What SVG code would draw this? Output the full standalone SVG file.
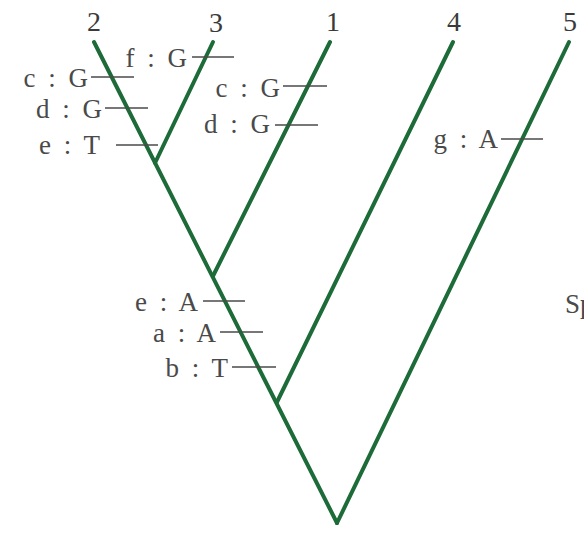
<svg xmlns="http://www.w3.org/2000/svg" width="584" height="547" viewBox="0 0 584 547">
<style>
.br{stroke:#1d6b38;stroke-width:4;stroke-linecap:round;fill:none}
.tk{stroke:#4a4a4a;stroke-width:1.6;fill:none}
.lb{font-family:"Liberation Serif",serif;font-size:27px;fill:#4a4a4a;letter-spacing:3px;text-anchor:end}
.num{font-family:"Liberation Serif",serif;font-size:28px;fill:#3a3a3a;text-anchor:middle}
</style>
<rect width="584" height="547" fill="#ffffff"/>
<g id="connectors">
<line class="br" x1="94" y1="42" x2="337" y2="523"/>
<line class="br" x1="569" y1="42" x2="337" y2="523"/>
<line class="br" x1="213" y1="42" x2="155" y2="163"/>
<line class="br" x1="330" y1="42" x2="213" y2="276"/>
<line class="br" x1="453" y1="42" x2="277" y2="402"/>
</g>
<g id="taxon-2"><text class="num" x="94" y="31">2</text></g>
<g id="taxon-3"><text class="num" x="216" y="32">3</text></g>
<g id="taxon-1"><text class="num" x="333" y="31">1</text></g>
<g id="taxon-4"><text class="num" x="454" y="31">4</text></g>
<g id="taxon-5"><text class="num" x="570" y="31">5</text></g>
<g id="mut-c-2"><text class="lb" x="91" y="87">c : G</text><line class="tk" x1="91" y1="77" x2="134" y2="77"/></g>
<g id="mut-f-3"><text class="lb" x="190" y="67">f : G</text><line class="tk" x1="192" y1="57" x2="234" y2="57"/></g>
<g id="mut-d-2"><text class="lb" x="105" y="118">d : G</text><line class="tk" x1="105" y1="108" x2="148" y2="108"/></g>
<g id="mut-e-2"><text class="lb" x="103" y="154">e : T</text><line class="tk" x1="116" y1="145" x2="158" y2="145"/></g>
<g id="mut-c-1"><text class="lb" x="283" y="97">c : G</text><line class="tk" x1="283" y1="86" x2="327" y2="86"/></g>
<g id="mut-d-1"><text class="lb" x="273" y="133">d : G</text><line class="tk" x1="275" y1="125" x2="318" y2="125"/></g>
<g id="mut-g-5"><text class="lb" x="501" y="148">g : A</text><line class="tk" x1="501" y1="139" x2="543" y2="139"/></g>
<g id="mut-e-a"><text class="lb" x="201" y="311">e : A</text><line class="tk" x1="203" y1="301" x2="245" y2="301"/></g>
<g id="mut-a-a"><text class="lb" x="219" y="342">a : A</text><line class="tk" x1="220" y1="332" x2="263" y2="332"/></g>
<g id="mut-b-t"><text class="lb" x="231" y="377">b : T</text><line class="tk" x1="232" y1="367" x2="276" y2="367"/></g>
<g id="side-label"><text x="565" y="313" style="font-family:'Liberation Serif',serif;font-size:27px;fill:#4a4a4a">Sp</text></g>
</svg>
